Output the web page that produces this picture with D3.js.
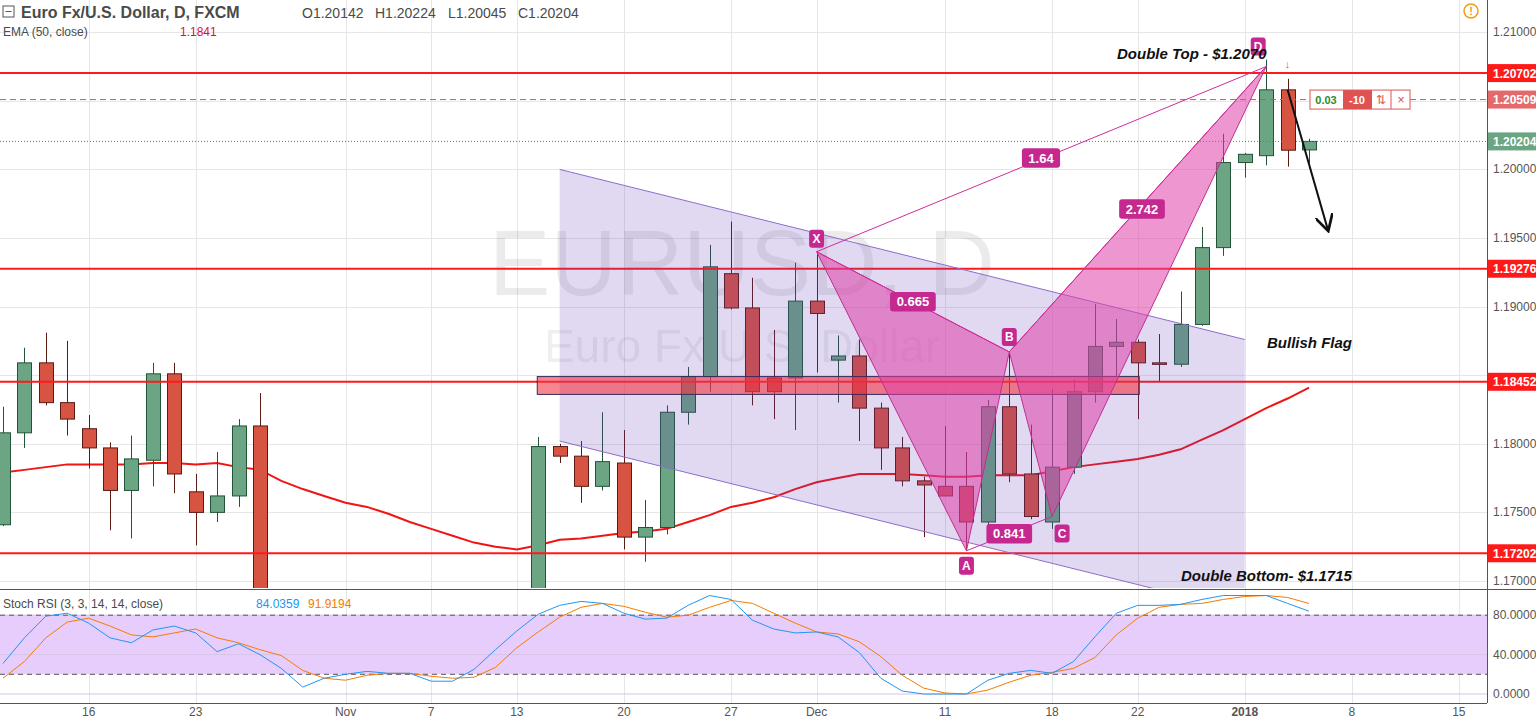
<!DOCTYPE html>
<html>
<head>
<meta charset="utf-8">
<script src="https://cdn.jsdelivr.net/npm/d3@7"></script>
<style>
  body { margin: 0; background: #fff; }
  svg { display: block; font-family: "Liberation Sans", Arial, sans-serif; }
</style>
</head>
<body>
<div id="chart"></div>
<script>
// bars from 2017-10-10, one per trading day (Dec 25 skipped); null = off the visible range
var open  = [1.1741,1.1808,1.1859,1.1830,1.1811,1.1797,1.1766,1.1788,1.1851,1.1765,1.1750,1.1762,1.1813,
             null,null,null,null,null,null,null,null,null,null,null,null,
             1.1660,1.1798,1.1791,1.1769,1.1786,1.1732,1.1739,1.1823,1.1849,1.1924,1.1899,1.1848,1.1848,1.1904,
             1.1861,1.1864,1.1826,1.1797,1.1773,1.1769,1.1769,1.1743,1.1827,1.1778,1.1743,1.1783,1.1838,1.1871,
             1.1874,1.1859,1.1858,1.1887,1.1943,1.2005,1.2010,1.2058,1.20142];
var high  = [1.1827,1.1870,1.1881,1.1875,1.1821,1.1801,1.1806,1.1859,1.1859,1.1778,1.1794,1.1818,1.1837,
             null,null,null,null,null,null,null,null,null,null,null,null,
             1.1805,1.1800,1.1802,1.1823,1.1810,1.1759,1.1828,1.1856,1.1945,1.1962,1.1921,1.1883,1.1932,1.1940,
             1.1879,1.1876,1.1830,1.1805,1.1776,1.1813,1.1794,1.1832,1.1866,1.1814,1.1840,1.1847,1.1902,1.1891,
             1.1876,1.1880,1.1911,1.1958,1.2026,1.2012,1.2080,1.2066,1.20224];
var low   = [1.1740,1.1797,1.1828,1.1806,1.1782,1.1737,1.1731,1.1769,1.1764,1.1726,1.1743,1.1754,1.1640,
             null,null,null,null,null,null,null,null,null,null,null,null,
             1.1655,1.1786,1.1757,1.1766,1.1723,1.1714,1.1734,1.1814,1.1838,1.1898,1.1828,1.1818,1.1810,1.1852,
             1.1830,1.1802,1.1781,1.1769,1.1732,1.1762,1.1722,1.1736,1.1772,1.1745,1.1738,1.1778,1.1830,1.1849,
             1.1818,1.1845,1.1856,1.1886,1.1937,1.1994,1.2003,1.2002,1.20045];
var close = [1.1808,1.1859,1.1830,1.1818,1.1797,1.1766,1.1789,1.1851,1.1778,1.1750,1.1762,1.1813,1.1650,
             null,null,null,null,null,null,null,null,null,null,null,null,
             1.1798,1.1791,1.1769,1.1787,1.1732,1.1739,1.1823,1.1849,1.1929,1.1899,1.1838,1.1838,1.1904,1.1895,
             1.1864,1.1826,1.1797,1.1773,1.1770,1.1762,1.1743,1.1827,1.1778,1.1747,1.1783,1.1838,1.1871,1.1874,
             1.1859,1.1858,1.1887,1.1943,1.2005,1.2011,1.2058,1.2014,1.20204];
var ema50 = [1.1779,1.1781,1.1783,1.1785,1.1785,1.1785,1.1785,1.1786,1.1786,1.1785,1.1786,1.1783,1.1781,
             1.1773,1.1767,1.1762,1.1757,1.1754,1.1749,1.1743,1.1738,1.1733,1.1728,1.1725,1.1723,
             1.1726,1.1730,1.1731,1.1733,1.1735,1.1736,1.1738,1.1743,1.1748,1.1754,1.1757,1.1761,1.1767,1.1772,
             1.1775,1.1778,1.1778,1.1778,1.1777,1.1776,1.1776,1.1777,1.1777,1.1777,1.1780,1.1783,1.1785,1.1787,
             1.1789,1.1792,1.1796,1.1803,1.1810,1.1818,1.1826,1.1833,1.1841];
var stochK = [31,57,79,82,72,57,52,65,69,62,43,51,40,26,7,16,20,23,21,21,13,13,25,45,64,81,90,94,92,82,76,77,90,100,96,75,
              66,62,63,58,42,16,3,0,0,0,14,21,24,21,33,58,82,90,90,91,96,100,100,100,92,84.0359];
var stochD = [16,33,57,73,77,69,60,58,62,66,57,52,45,39,24,16,14,19,21,21,18,16,17,27,47,63,78,88,92,89,83,78,80,88,95,92,
              82,72,63,61,53,38,19,6,1,0,4,12,19,22,26,37,60,77,88,91,92,96,99,100,98,91.9194];

var tickLabels = ["16","23","Nov","7","13","20","27","Dec","11","18","22","2018","8","15"];
var tickBars   = [4,9,16,20,24,29,34,38,44,49,53,58,63,68];
var priceTicks = [1.17,1.175,1.18,1.185,1.19,1.195,1.20,1.205,1.21];
var stochTicks = [0,40,80];

var levels = [1.20702,1.19276,1.18452,1.17202];
var zone = {from: 25, to: 53, lo: 1.1836, hi: 1.1849};
var channel = {x0: 26, x1: 58, top0: 1.2000, top1: 1.1876, bot0: 1.1802};
var pattern = [["X",38,1.1940],["A",45,1.1722],["B",47,1.1867],["C",49,1.1747],["D",59,1.2075]];
var ratios = [["0.665","X","B"],["0.841","A","C"],["2.742","B","D"],["1.64","X","D"]];

var W = 1536, H = 719, axisX = 1487;
var svg = d3.select("#chart").append("svg").attr("width", W).attr("height", H);

var x = d3.scaleLinear().domain([0, 69]).range([3, 3 + 21.41 * 69]);
var y = d3.scaleLinear().domain([1.17, 1.21]).range([581, 32.2]);
var ys = d3.scaleLinear().domain([0, 100]).range([694, 595.5]);

svg.append("clipPath").attr("id", "cm").append("rect").attr("width", axisX).attr("height", 588);
svg.append("clipPath").attr("id", "cs").append("rect").attr("y", 590).attr("width", axisX).attr("height", 112);

// grid
var grid = svg.append("g").attr("stroke", "#e6e6e6").attr("stroke-width", 1);
grid.selectAll(".v").data(tickBars).enter().append("line")
  .attr("x1", function(d) { return Math.round(x(d)) + 0.5; }).attr("x2", function(d) { return Math.round(x(d)) + 0.5; })
  .attr("y1", 0).attr("y2", 703);
grid.selectAll(".h").data(priceTicks).enter().append("line")
  .attr("x1", 0).attr("x2", axisX).attr("y1", function(d) { return Math.round(y(d)) + 0.5; }).attr("y2", function(d) { return Math.round(y(d)) + 0.5; });

// watermark
svg.append("text").attr("x", 742).attr("y", 295).attr("text-anchor", "middle").attr("font-size", 92)
  .attr("fill", "#000").attr("fill-opacity", 0.08).text("EURUSD, D");
svg.append("text").attr("x", 742).attr("y", 362).attr("text-anchor", "middle").attr("font-size", 46)
  .attr("fill", "#000").attr("fill-opacity", 0.08).text("Euro Fx/U.S. Dollar");

var main = svg.append("g").attr("clip-path", "url(#cm)");

// EMA
main.append("path").datum(ema50).attr("fill", "none").attr("stroke", "#f01414").attr("stroke-width", 2)
  .attr("d", d3.line().x(function(d, i) { return x(i); }).y(function(d) { return y(d); }));

// candles
var bars = d3.range(open.length).filter(function(i) { return open[i] != null; });
var cg = main.selectAll(".c").data(bars).enter().append("g");
cg.append("line").attr("x1", function(i) { return Math.round(x(i)) + 0.5; }).attr("x2", function(i) { return Math.round(x(i)) + 0.5; })
  .attr("y1", function(i) { return y(high[i]); }).attr("y2", function(i) { return y(low[i]); })
  .attr("stroke", function(i) { return close[i] >= open[i] ? "#225437" : "#5b1a13"; });
cg.append("rect").attr("x", function(i) { return Math.round(x(i)) - 6.5; }).attr("width", 14)
  .attr("y", function(i) { return y(Math.max(open[i], close[i])); })
  .attr("height", function(i) { return Math.max(1.5, Math.abs(y(open[i]) - y(close[i]))); })
  .attr("fill", function(i) { return close[i] >= open[i] ? "#6ba583" : "#d75442"; })
  .attr("stroke", function(i) { return close[i] >= open[i] ? "#225437" : "#5b1a13"; });

// horizontal levels
main.selectAll(".lv").data(levels).enter().append("line")
  .attr("x1", 0).attr("x2", axisX).attr("y1", function(d) { return y(d); }).attr("y2", function(d) { return y(d); })
  .attr("stroke", "#ff1a1a").attr("stroke-width", 2);
main.append("line").attr("x1", 0).attr("x2", axisX).attr("y1", y(1.20509)).attr("y2", y(1.20509))
  .attr("stroke", "#e05252").attr("stroke-dasharray", "6,4");
main.append("line").attr("x1", 0).attr("x2", axisX).attr("y1", y(close[close.length - 1])).attr("y2", y(close[close.length - 1]))
  .attr("stroke", "#4a8a66").attr("stroke-dasharray", "1,2");

// flag channel
var slope = (channel.top1 - channel.top0) / (channel.x1 - channel.x0);
var bot1 = channel.bot0 + slope * (channel.x1 - channel.x0);
main.append("path").attr("d", d3.line()([[x(channel.x0), y(channel.top0)], [x(channel.x1), y(channel.top1)],
    [x(channel.x1), y(bot1)], [x(channel.x0), y(channel.bot0)]]))
  .attr("fill", "rgb(103,58,183)").attr("fill-opacity", 0.2).attr("stroke", "none");
main.append("line").attr("x1", x(channel.x0)).attr("y1", y(channel.top0)).attr("x2", x(channel.x1)).attr("y2", y(channel.top1))
  .attr("stroke", "#8e6cc9").attr("stroke-width", 1);
main.append("line").attr("x1", x(channel.x0)).attr("y1", y(channel.bot0)).attr("x2", x(channel.x1)).attr("y2", y(bot1))
  .attr("stroke", "#8e6cc9").attr("stroke-width", 1);

// zone
main.append("rect").attr("x", x(zone.from) - 1).attr("width", x(zone.to) - x(zone.from) + 2.5)
  .attr("y", y(zone.hi)).attr("height", y(zone.lo) - y(zone.hi))
  .attr("fill", "#f23645").attr("fill-opacity", 0.6).attr("stroke", "#3a2a5a").attr("stroke-width", 1);

// harmonic pattern
var P = {};
pattern.forEach(function(p) { P[p[0]] = [x(p[1]), y(p[2])]; });
var hp = main.append("g");
[["X","A","B"],["B","C","D"]].forEach(function(t) {
  hp.append("path").attr("d", d3.line()(t.map(function(k) { return P[k]; })) + "Z")
    .attr("fill", "#e040a8").attr("fill-opacity", 0.55).attr("stroke", "#c0308e").attr("stroke-width", 1);
});
ratios.forEach(function(r) {
  hp.append("line").attr("x1", P[r[1]][0]).attr("y1", P[r[1]][1]).attr("x2", P[r[2]][0]).attr("y2", P[r[2]][1])
    .attr("stroke", "#d02d9a").attr("stroke-width", 1);
});
function tag(g, txt, cx, cy, size) {
  var w = txt.length * size * 0.58 + 8;
  g.append("rect").attr("x", cx - w / 2).attr("y", cy - size * 0.75).attr("width", w).attr("height", size * 1.5)
    .attr("rx", 3).attr("fill", "#c5288f");
  g.append("text").attr("x", cx).attr("y", cy + size * 0.36).attr("text-anchor", "middle").attr("font-size", size)
    .attr("font-weight", "bold").attr("fill", "#fff").text(txt);
}
var tagOff = {X: [0, -13], A: [0, 15], B: [0, -15], C: [10, 17], D: [-8, -20]};
pattern.forEach(function(p) {
  var k = p[0];
  tag(hp, k, P[k][0] + tagOff[k][0], P[k][1] + tagOff[k][1], 12);
});
ratios.forEach(function(r) {
  var a = P[r[1]], b = P[r[2]];
  var mx = (a[0] + b[0]) / 2, my = (a[1] + b[1]) / 2;
  if (r[0] === "2.742") { mx = 1142; my = 209; }
  if (r[0] === "1.64") { mx = 1041; my = 158; }
  tag(hp, r[0], mx, my, 13);
});

// notes
function note(txt, tx, ty) {
  svg.append("text").attr("x", tx).attr("y", ty).attr("font-size", 15).attr("font-weight", "bold")
    .attr("font-style", "italic").attr("fill", "#111").text(txt);
}
note("Double Top - $1.2070", 1117, 59);
note("Double Bottom- $1.1715", 1181, 581);
note("Bullish  Flag", 1267, 348);
svg.append("defs").append("marker").attr("id", "ah").attr("viewBox", "0 0 10 10").attr("refX", 9).attr("refY", 5)
  .attr("markerWidth", 9).attr("markerHeight", 9).attr("orient", "auto")
  .append("path").attr("d", "M0,0 L9,5 L0,10").attr("fill", "none").attr("stroke", "#111").attr("stroke-width", 1.5);
svg.append("line").attr("x1", x(60)).attr("y1", y(1.2058)).attr("x2", x(61.9)).attr("y2", y(1.1955))
  .attr("stroke", "#111").attr("stroke-width", 2).attr("marker-end", "url(#ah)");
svg.append("text").attr("x", x(60)).attr("y", 68).attr("text-anchor", "middle").attr("font-size", 11).attr("fill", "#e05252").text("↓");

// position widget
var pw = svg.append("g").attr("transform", "translate(1310," + (y(1.20509) - 9.5) + ")");
pw.append("rect").attr("width", 100).attr("height", 19).attr("fill", "#fff").attr("stroke", "#e05252");
pw.append("rect").attr("x", 33).attr("width", 29).attr("height", 19).attr("fill", "#e05252");
pw.append("line").attr("x1", 81).attr("x2", 81).attr("y2", 19).attr("stroke", "#e05252");
pw.append("text").attr("x", 16).attr("y", 14).attr("text-anchor", "middle").attr("font-size", 11).attr("font-weight", "bold").attr("fill", "#2e8b2e").text("0.03");
pw.append("text").attr("x", 47).attr("y", 14).attr("text-anchor", "middle").attr("font-size", 11).attr("font-weight", "bold").attr("fill", "#fff").text("-10");
pw.append("text").attr("x", 71).attr("y", 14).attr("text-anchor", "middle").attr("font-size", 12).attr("fill", "#e05252").text("⇅");
pw.append("text").attr("x", 91).attr("y", 14).attr("text-anchor", "middle").attr("font-size", 13).attr("fill", "#e05252").text("×");

// stoch panel
svg.append("line").attr("x1", 0).attr("x2", W).attr("y1", 589.5).attr("y2", 589.5).attr("stroke", "#555");
var sp = svg.append("g").attr("clip-path", "url(#cs)");
sp.append("rect").attr("x", 0).attr("width", axisX).attr("y", ys(80)).attr("height", ys(20) - ys(80)).attr("fill", "#e7cdfb");
sp.selectAll(".sh").data(stochTicks).enter().append("line").attr("x1", 0).attr("x2", axisX)
  .attr("y1", function(d) { return ys(d); }).attr("y2", function(d) { return ys(d); }).attr("stroke", "#d8c3e8");
[20, 80].forEach(function(v) {
  sp.append("line").attr("x1", 0).attr("x2", axisX).attr("y1", ys(v)).attr("y2", ys(v))
    .attr("stroke", "#555").attr("stroke-dasharray", "5,4");
});
var sline = d3.line().x(function(d, i) { return x(i); }).y(function(d) { return ys(d); });
sp.append("path").datum(stochD).attr("fill", "none").attr("stroke", "#f57c00").attr("stroke-width", 1).attr("d", sline);
sp.append("path").datum(stochK).attr("fill", "none").attr("stroke", "#2196f3").attr("stroke-width", 1).attr("d", sline);

// axes
svg.append("line").attr("x1", axisX + 0.5).attr("x2", axisX + 0.5).attr("y1", 0).attr("y2", 703).attr("stroke", "#555");
svg.append("line").attr("x1", 0).attr("x2", axisX).attr("y1", 703.5).attr("y2", 703.5).attr("stroke", "#555");
var marked = levels.concat([1.20509, close[close.length - 1]]);
svg.selectAll(".pt").data(priceTicks.filter(function(t) {
    return marked.every(function(m) { return Math.abs(y(m) - y(t)) > 13; }); }))
  .enter().append("text").attr("x", 1493).attr("y", function(d) { return y(d) + 4; }).attr("font-size", 12)
  .attr("fill", "#555").text(function(d) { return d.toFixed(5); });
function priceTag(v, bg) {
  svg.append("rect").attr("x", 1488).attr("y", y(v) - 9).attr("width", 48).attr("height", 18).attr("fill", bg);
  svg.append("text").attr("x", 1493).attr("y", y(v) + 4.5).attr("font-size", 12).attr("font-weight", "bold")
    .attr("fill", "#fff").text(v.toFixed(5));
}
levels.forEach(function(v) { priceTag(v, "#ff1a1a"); });
priceTag(1.20509, "#e46a6a");
priceTag(close[close.length - 1], "#6ba583");
svg.selectAll(".st").data(stochTicks).enter().append("text").attr("x", 1493).attr("y", function(d) { return ys(d) + 4; })
  .attr("font-size", 12).attr("fill", "#555").text(function(d) { return d.toFixed(4); });
svg.selectAll(".xt").data(tickBars).enter().append("text").attr("x", function(d) { return x(d); }).attr("y", 716)
  .attr("text-anchor", "middle").attr("font-size", 12).attr("fill", "#555")
  .attr("font-weight", function(d, i) { return tickLabels[i] === "2018" ? "bold" : "normal"; })
  .text(function(d, i) { return tickLabels[i]; });

// legends
svg.append("rect").attr("x", 3).attr("y", 6).attr("width", 11).attr("height", 11).attr("fill", "none").attr("stroke", "#555");
svg.append("line").attr("x1", 5.5).attr("x2", 11.5).attr("y1", 11.5).attr("y2", 11.5).attr("stroke", "#555");
svg.append("text").attr("x", 21).attr("y", 18).attr("font-size", 16).attr("font-weight", 600).attr("fill", "#4a4a4a").text("Euro Fx/U.S. Dollar, D, FXCM");
var ohlc = [["O", open], ["H", high], ["L", low], ["C", close]];
var lx = [302, 375, 448, 518];
ohlc.forEach(function(o, i) {
  svg.append("text").attr("x", lx[i]).attr("y", 18).attr("font-size", 14).attr("fill", "#4a4a4a")
    .text(o[0] + o[1][o[1].length - 1].toFixed(5));
});
svg.append("text").attr("x", 3).attr("y", 36).attr("font-size", 12).attr("fill", "#4a4a4a").text("EMA (50, close)");
svg.append("text").attr("x", 180).attr("y", 36).attr("font-size", 12).attr("fill", "#e0102a").text(ema50[ema50.length - 1].toFixed(4));
svg.append("text").attr("x", 3).attr("y", 608).attr("font-size", 12).attr("fill", "#4a4a4a").text("Stoch RSI (3, 3, 14, 14, close)");
svg.append("text").attr("x", 256).attr("y", 608).attr("font-size", 12).attr("fill", "#2196f3").text(stochK[stochK.length - 1].toFixed(4));
svg.append("text").attr("x", 308).attr("y", 608).attr("font-size", 12).attr("fill", "#f57c00").text(stochD[stochD.length - 1].toFixed(4));
svg.append("circle").attr("cx", 1471).attr("cy", 11).attr("r", 7).attr("fill", "none").attr("stroke", "#f39c12").attr("stroke-width", 1.5);
svg.append("text").attr("x", 1471).attr("y", 15).attr("text-anchor", "middle").attr("font-size", 11).attr("font-weight", "bold").attr("fill", "#f39c12").text("!");
</script>
</body>
</html>
